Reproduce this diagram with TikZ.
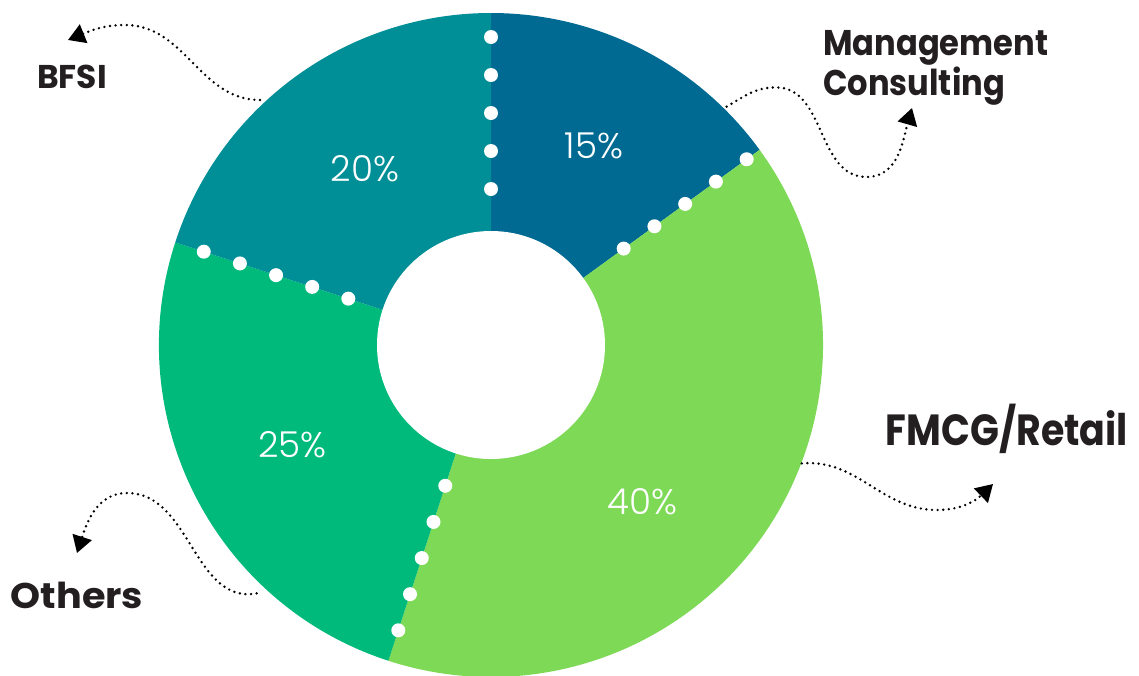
\documentclass[tikz,border=0pt]{standalone}
\usepackage{fontspec}
\setmainfont{Poppins}
\newfontfamily\pctfont{Poppins Light}
\usetikzlibrary{arrows.meta}

\definecolor{mgmtblue}{HTML}{006A92}
\definecolor{bfsiteal}{HTML}{008F96}
\definecolor{othergreen}{HTML}{00BA7C}
\definecolor{fmcggreen}{HTML}{7ED957}
\definecolor{labelink}{HTML}{231F20}

\tikzset{
    pct/.style={text=white, inner sep=0pt, font=\pctfont\fontsize{25.4}{26}\selectfont},
    lbl/.style={text=labelink, inner sep=0pt, align=left},
    wavy/.style={line width=1.9pt, line cap=round, dash pattern=on 0pt off 4pt,
        -{Triangle[length=12pt, width=14pt]}},
}

\begin{document}
\begin{tikzpicture}
    \useasboundingbox (-12.275,-8.25) rectangle (16.2,8.625);

    % sectors
    \fill[mgmtblue] (0,0) -- (90:8.3) arc[start angle=90, end angle=36, radius=8.3] -- cycle;
    \fill[fmcggreen] (0,0) -- (36:8.3) arc[start angle=36, end angle=-108, radius=8.3] -- cycle;
    \fill[othergreen] (0,0) -- (-108:8.3) arc[start angle=-108, end angle=-198, radius=8.3] -- cycle;
    \fill[bfsiteal] (0,0) -- (162:8.3) arc[start angle=162, end angle=90, radius=8.3] -- cycle;
    \fill[white] (0,0) circle (2.85);

    % dots on the borders
    \foreach \a/\s in {90/3.9, 36/4.1, 162/3.75, -108/3.7} {
        \foreach \i in {0,1,2,3,4} {
            \fill[white] (\a:{\s+0.95*\i}) circle (0.175);
        }
    }

    \node[pct] (p15) at (2.575,4.975) {15\%};
    \node[pct] (p20) at (-3.15,4.4) {20\%};
    \node[pct] (p25) at (-4.97,-2.49) {25\%};
    \node[pct] (p40) at (3.79,-3.925) {40\%};

    \node[lbl, anchor=base, font=\bfseries\fontsize{23.4}{24}\selectfont] (bfsi) at (-10.475,6.425) {BFSI};
    \node[lbl, anchor=north west, font=\bfseries\fontsize{25.4}{25.6}\selectfont\addfontfeatures{FakeStretch=0.9}] (mgmt) at (8.3,7.875) {Management\\Consulting};
    \node[lbl, anchor=base, font=\bfseries\fontsize{31}{32}\selectfont\addfontfeatures{FakeStretch=0.87}] (fmcg) at (12.9,-2.5) {FMCG/Retail};
    \node[lbl, anchor=base, font=\bfseries\fontsize{25.4}{26}\selectfont\addfontfeatures{FakeStretch=1.07}] (others) at (-10.35,-6.575) {Others};

    % wavy pointers
    \coordinate (bfsiS) at (-5.775,6.125);
    \coordinate (bfsiT) at (-9.15,8.0);
    \coordinate (bfsiE) at (-10.575,7.625);
    \coordinate (mgmtS) at (5.89,5.96);
    \coordinate (mgmtP) at (7.125,6.44);
    \coordinate (mgmtB) at (9.39,4.2);
    \coordinate (mgmtE) at (10.525,5.925);
    \coordinate (fmcgS) at (7.77,-2.96);
    \coordinate (fmcgB) at (11.15,-4.125);
    \coordinate (fmcgE) at (12.55,-3.475);
    \coordinate (othersS) at (-5.86,-6.21);
    \coordinate (othersT) at (-9.1,-3.7);
    \coordinate (othersE) at (-10.35,-5.2);

    \draw[wavy] (bfsiS) to[out=180, in=0] (bfsiT) to[out=180, in=22] (bfsiE);
    \draw[wavy] (mgmtS) to[out=30, in=180] (mgmtP) to[out=0, in=180] (mgmtB) to[out=0, in=254] (mgmtE);
    \draw[wavy] (fmcgS) to[out=5, in=180] (fmcgB) to[out=0, in=224] (fmcgE);
    \draw[wavy] (othersS) to[out=190, in=0] (othersT) to[out=180, in=72] (othersE);
\end{tikzpicture}
\end{document}
